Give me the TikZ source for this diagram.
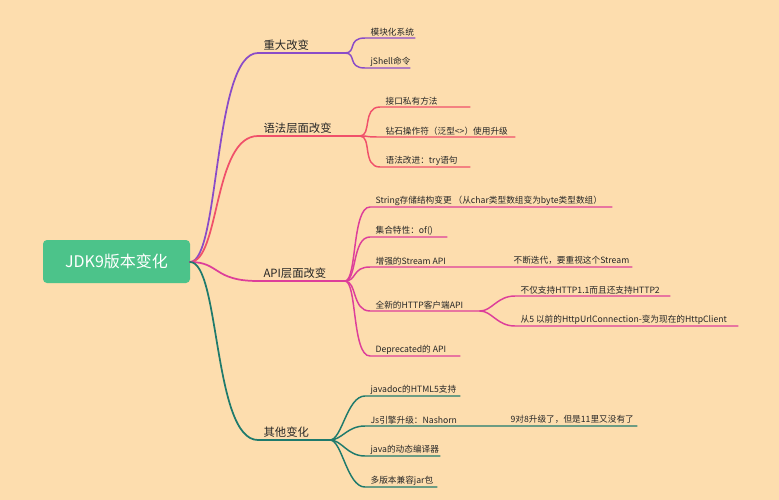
\documentclass[tikz,border=0pt]{standalone}
\usepackage{fontspec}
\setmainfont{Noto Sans CJK SC}
\usetikzlibrary{positioning}
\definecolor{bgpeach}{HTML}{FDDDAE}
\definecolor{rootgreen}{HTML}{4CC38A}
\definecolor{cpurple}{HTML}{8A4CC8}
\definecolor{cred}{HTML}{F0506A}
\definecolor{cpink}{HTML}{DD3E9A}
\definecolor{cteal}{HTML}{1F7A6C}
\tikzset{
  lab/.style={anchor=south west,inner sep=1pt,font=\fontsize{6.5}{7}\selectfont,text=black!85},
  toplab/.style={anchor=south west,inner sep=1pt,font=\fontsize{8.5}{9}\selectfont,text=black!85},
  edge/.style={line width=1.1pt,line cap=round},
}
% \leaf{colour}{parent}{name}{x1}{x2}{y}{text}
\newcommand{\leaf}[7]{%
  \coordinate (#3s) at (#4,#6);
  \coordinate (#3) at (#5,#6);
  \draw[edge,#1] (#2) .. controls +(12,0) and +(-18,0) .. (#3s) -- (#3);
  \node[lab] (#3t) at ([xshift=3]#3s) {#7};}
\begin{document}
\begin{tikzpicture}[x=0.75pt,y=0.75pt,yscale=-1,xscale=1]
\fill[bgpeach] (0,0) rectangle (779,500);

% root
\node[fill=rootgreen,rounded corners=3pt,minimum width=110.25pt,minimum height=32.25pt,
  text=white,font=\fontsize{12}{14}\selectfont] (root) at (116.5,261.5) {JDK9版本变化};
\coordinate (rootr) at (190,262);

% first level
\foreach \nm/\col/\xe/\y/\txt in {major/cpurple/345/53/重大改变, syntax/cred/360/136/语法层面改变,
    api/cpink/345/281/API层面改变, other/cteal/330/440/其他变化}{
  \coordinate (\nm s) at (258,\y);
  \coordinate (\nm) at (\xe,\y);
  \draw[edge,line width=1.3pt,\col] (rootr) .. controls +(30,0) and +(-45,0) .. (\nm s) -- (\nm);
  \node[toplab] (\nm t) at (262,\y-1) {\txt};
}

% 重大改变
\leaf{cpurple}{major}{modsys}{365}{415}{38}{模块化系统}
\leaf{cpurple}{major}{jshell}{365}{410}{68}{jShell命令}

% 语法层面改变
\leaf{cred}{syntax}{privm}{380}{470}{107}{接口私有方法}
\leaf{cred}{syntax}{diamond}{380}{515}{137}{钻石操作符（泛型<>）使用升级}
\leaf{cred}{syntax}{trystm}{380}{470}{167}{语法改进：try语句}

% API层面改变
\leaf{cpink}{api}{strstore}{370}{612}{207}{String存储结构变更 （从char类型数组变为byte类型数组）}
\leaf{cpink}{api}{collof}{370}{447}{237}{集合特性：of()}
\leaf{cpink}{api}{stream}{370}{632}{267}{增强的Stream API}
\node[lab] (streamnote) at (512,266) {不断迭代，要重视这个Stream};
\leaf{cpink}{api}{httpc}{370}{480}{311}{全新的HTTP客户端API}
\leaf{cpink}{httpc}{http2}{515}{670}{296}{不仅支持HTTP1.1而且还支持HTTP2}
\leaf{cpink}{httpc}{httpcl}{515}{738}{326}{从5 以前的HttpUrlConnection-变为现在的HttpClient}
\leaf{cpink}{api}{deprec}{370}{460}{356}{Deprecated的 API}

% 其他变化
\leaf{cteal}{other}{jdoc}{365}{460}{396}{javadoc的HTML5支持}
\leaf{cteal}{other}{nashorn}{365}{637}{426}{Js引擎升级：Nashorn}
\node[lab] (nashnote) at (509,425) {9对8升级了，但是11里又没有了};
\leaf{cteal}{other}{dyncomp}{365}{440}{456}{java的动态编译器}
\leaf{cteal}{other}{mrjar}{365}{437}{487}{多版本兼容jar包}
\end{tikzpicture}
\end{document}
